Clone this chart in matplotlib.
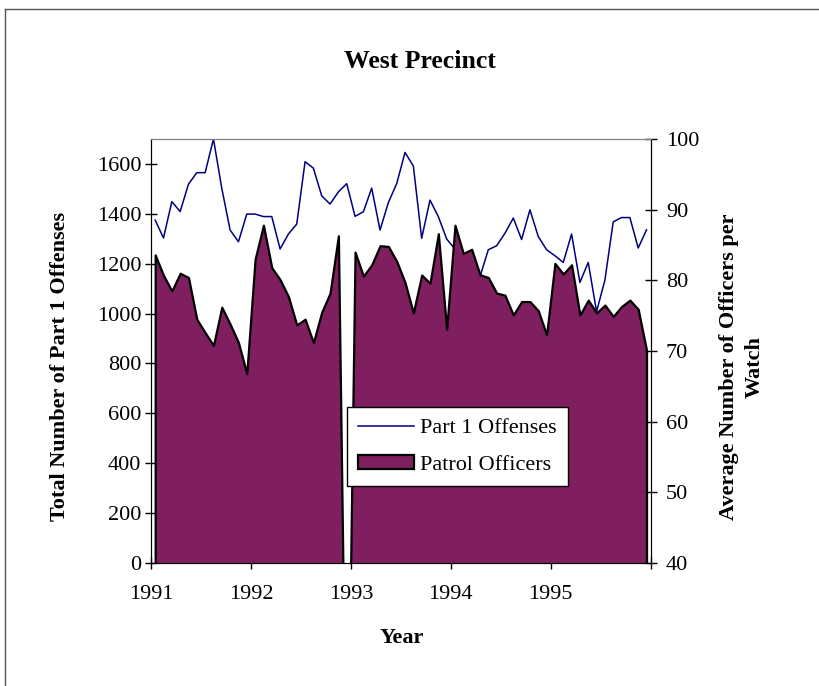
import numpy as np
import matplotlib.pyplot as plt
from matplotlib.lines import Line2D
from matplotlib.patches import Patch

plt.rcParams['font.family'] = ['Liberation Serif', 'DejaVu Serif']

# Monthly totals, Jan 1991 - Dec 1995
offenses = [1375, 1303, 1449, 1409, 1519, 1565, 1565, 1700, 1502, 1335, 1288, 1399,
            1399, 1389, 1389, 1259, 1319, 1359, 1609, 1583, 1472, 1439, 1488, 1521,
            1390, 1408, 1503, 1335, 1445, 1521, 1646, 1592, 1302, 1455, 1389, 1299,
            1259, 1220, 1190, 1148, 1256, 1272, 1322, 1383, 1297, 1416, 1309, 1256,
            1232, 1205, 1319, 1125, 1205, 1008, 1134, 1368, 1385, 1385, 1263, 1336]

# Average officers per watch (Dec 1992 missing -> 0)
officers = [83.6, 80.7, 78.5, 81.0, 80.4, 74.5, 72.6, 70.8, 76.2, 73.8, 71.2, 66.8,
            83.0, 87.8, 81.8, 80.1, 77.7, 73.7, 74.5, 71.2, 75.5, 78.2, 86.3, 0.0,
            84.0, 80.6, 82.2, 84.9, 84.8, 82.7, 79.7, 75.4, 80.75, 79.6, 86.6, 73.1,
            87.8, 83.8, 84.4, 80.8, 80.4, 78.2, 77.9, 75.1, 77.0, 77.0, 75.7, 72.3,
            82.4, 80.9, 82.2, 75.1, 77.2, 75.4, 76.5, 74.9, 76.3, 77.2, 75.9, 70.1]

year_ticks = [1991, 1992, 1993, 1994, 1995, 1996]
year_labels = ['1991', '1992', '1993', '1994', '1995', '']

months = 1991 + (np.arange(len(offenses)) + 0.5) / 12

fig = plt.figure(figsize=(8.19, 6.86), dpi=100)
ax = fig.add_axes([151 / 819, 1 - 563 / 686, 499.7 / 819, 424 / 686])
ax2 = ax.twinx()

purple = '#7f1f5f'
navy = '#000080'

ax.plot(months, offenses, color=navy, lw=1.1)
ax2.fill_between(months, officers, 0, facecolor=purple, edgecolor='black', lw=1.6)

ax.set_xlim(1991, 1996)
ax.set_ylim(0, 1700)
ax2.set_ylim(40, 100)
ax.set_xticks(year_ticks)
ax.set_xticklabels(year_labels)
ax.set_yticks(range(0, 1601, 200))
ax2.set_yticks(range(40, 101, 10))

for a in (ax, ax2):
    a.tick_params(direction='inout', length=8, width=1, labelsize=16, color='black')
ax.tick_params(axis='y', pad=3)
ax.tick_params(axis='x', pad=12)
ax2.tick_params(axis='y', pad=7)

for a in (ax, ax2):
    a.spines['top'].set_color('#808080')
    a.spines['left'].set_color('black')
    a.spines['right'].set_color('black')
    a.spines['bottom'].set_color('black')

fig.text(420 / 819, 1 - 62 / 686, 'West Precinct', fontsize=18.5, fontweight='bold',
         ha='center', va='center')
fig.text(60 / 819, 1 - 366 / 686, 'Total Number of Part 1 Offenses', fontsize=16,
         fontweight='bold', rotation=90, ha='center', va='center')
fig.text(742 / 819, 1 - 367 / 686, 'Average Number of Officers per\nWatch', fontsize=16,
         fontweight='bold', rotation=90, ha='center', va='center', multialignment='center',
         linespacing=1.4)
fig.text(402 / 819, 1 - 638 / 686, 'Year', fontsize=16, fontweight='bold',
         ha='center', va='center')

handles = [Line2D([], [], color=navy, lw=1.1),
           Patch(facecolor=purple, edgecolor='black', lw=1.6)]
leg = ax2.legend(handles, ['Part 1 Offenses', 'Patrol Officers'], loc='upper left',
                 bbox_to_anchor=(347 / 819, 1 - 407 / 686), bbox_transform=fig.transFigure,
                 fontsize=16, frameon=True, fancybox=False, framealpha=1,
                 edgecolor='black', borderaxespad=0, handlelength=2.5,
                 handleheight=0.6, handletextpad=0.3, labelspacing=0.75, borderpad=0.5)
leg.get_frame().set_linewidth(1)

# outer chart frame
fig.add_artist(Line2D([5 / 819, 5 / 819], [0, 1 - 9 / 686], color='#555555', lw=1,
                      transform=fig.transFigure))
fig.add_artist(Line2D([5 / 819, 1], [1 - 9 / 686, 1 - 9 / 686], color='#555555', lw=1,
                      transform=fig.transFigure))

fig.savefig('out.png', dpi=100)
